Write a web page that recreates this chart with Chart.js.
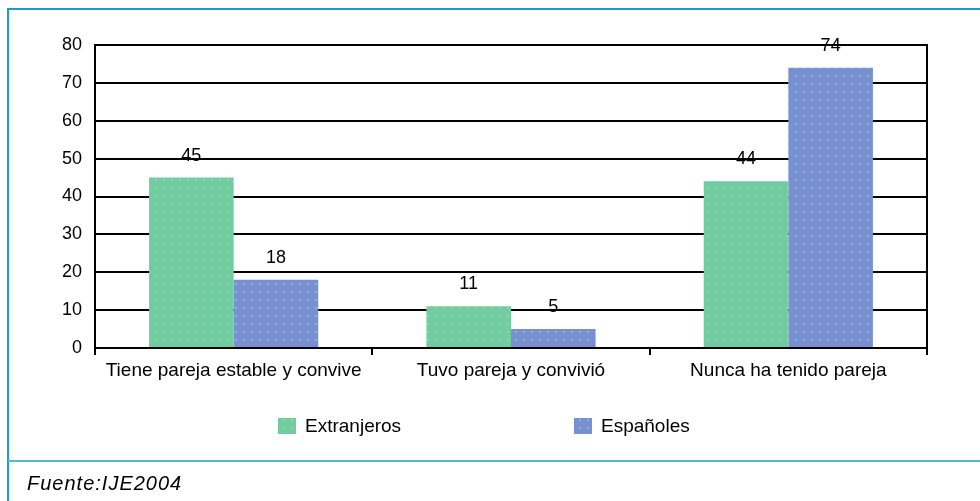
<!DOCTYPE html>
<html>
<head>
<meta charset="utf-8">
<script src="https://cdn.jsdelivr.net/npm/chart.js@4.4.1/dist/chart.umd.min.js"></script>
<style>
  html, body { margin: 0; padding: 0; background: #ffffff; }
  #wrap { position: relative; width: 980px; height: 501px; }
  canvas { display: block; }
</style>
</head>
<body>
<div id="wrap"><canvas id="c" width="980" height="501"></canvas></div>
<script>
// Situación de pareja: extranjeros frente a españoles (%)
const categories = ['Tiene pareja estable y convive', 'Tuvo pareja y convivió', 'Nunca ha tenido pareja'];
const extranjeros = [45, 11, 44];
const espanoles = [18, 5, 74];
const seriesNames = ['Extranjeros', 'Españoles'];
const yTicks = [0, 10, 20, 30, 40, 50, 60, 70, 80];
const sourceNote = 'Fuente:IJE2004';

const FONT = '"Liberation Sans", Arial, sans-serif';

// Dotted fills for the bars
function makePattern(base, dot, step) {
  const p = document.createElement('canvas');
  p.width = step; p.height = step;
  const g = p.getContext('2d');
  g.fillStyle = base;
  g.fillRect(0, 0, step, step);
  g.fillStyle = dot;
  g.fillRect(Math.floor(step / 2) - 1, Math.floor(step / 2) - 1, 2, 2);
  return g.createPattern(p, 'repeat');
}
const ctx0 = document.getElementById('c').getContext('2d');
const greenFill = makePattern('#72cca2', '#8fd89a', 8);
const blueFill = makePattern('#7a8fd2', '#74c2c8', 8);

// Frame, value labels, legend and source line
const decor = {
  id: 'decor',
  beforeDraw(chart) {
    const c = chart.ctx;
    c.save();
    c.fillStyle = '#ffffff';
    c.fillRect(0, 0, chart.width, chart.height);
    c.restore();
  },
  afterDraw(chart) {
    const c = chart.ctx;
    const a = chart.chartArea;
    c.save();
    // right edge of the plot
    c.strokeStyle = '#000000';
    c.lineWidth = 2;
    c.beginPath();
    c.moveTo(a.right, a.top - 1);
    c.lineTo(a.right, a.bottom + 1);
    c.stroke();

    // values above bars
    c.fillStyle = '#000000';
    c.font = '18px ' + FONT;
    c.textAlign = 'center';
    c.textBaseline = 'middle';
    chart.data.datasets.forEach((ds, di) => {
      chart.getDatasetMeta(di).data.forEach((bar, i) => {
        c.fillText(String(ds.data[i]), bar.x, bar.y - 22);
      });
    });

    // legend
    const legendX = [278, 574];
    c.font = '19px ' + FONT;
    c.textAlign = 'left';
    chart.data.datasets.forEach((ds, di) => {
      const x = legendX[di];
      c.fillStyle = ds.backgroundColor;
      c.fillRect(x, 418, 18, 16);
      c.fillStyle = '#000000';
      c.fillText(ds.label, x + 27, 427);
    });

    // outer frame
    c.strokeStyle = '#169fc6';
    c.lineWidth = 2;
    c.beginPath();
    c.moveTo(8, chart.height);
    c.lineTo(8, 9);
    c.lineTo(chart.width, 9);
    c.stroke();
    c.strokeStyle = '#55b9d5';
    c.lineWidth = 2;
    c.beginPath();
    c.moveTo(8, 461);
    c.lineTo(chart.width, 461);
    c.stroke();

    // source
    c.fillStyle = '#000000';
    c.font = 'italic 20px ' + FONT;
    c.textAlign = 'left';
    if ('letterSpacing' in c) c.letterSpacing = '1px';
    c.fillText(sourceNote, 27, 484);
    c.restore();
  }
};

new Chart(ctx0, {
  type: 'bar',
  data: {
    labels: categories,
    datasets: [
      { label: seriesNames[0], data: extranjeros, backgroundColor: greenFill, borderWidth: 0 },
      { label: seriesNames[1], data: espanoles, backgroundColor: blueFill, borderWidth: 0 }
    ]
  },
  options: {
    responsive: false,
    animation: false,
    layout: { padding: { top: 45, right: 53, bottom: 0, left: 0 } },
    plugins: { legend: { display: false }, tooltip: { enabled: false } },
    datasets: { bar: { categoryPercentage: 0.61, barPercentage: 1.0 } },
    scales: {
      x: {
        offset: true,
        grid: { offset: true, drawOnChartArea: false, drawTicks: true, tickLength: 7, color: '#000000', lineWidth: 2 },
        border: { display: true, color: '#000000', width: 2 },
        ticks: { color: '#000000', font: { family: FONT, size: 19 }, padding: 4, maxRotation: 0, autoSkip: false },
        afterFit(s) { s.height = 153; }
      },
      y: {
        min: 0,
        max: 80,
        afterBuildTicks(s) { s.ticks = yTicks.map(v => ({ value: v })); },
        grid: { color: '#000000', lineWidth: 2, drawTicks: false },
        border: { display: true, color: '#000000', width: 2 },
        ticks: { color: '#000000', font: { family: FONT, size: 18 }, padding: 13 },
        afterFit(s) { s.width = 95; }
      }
    }
  },
  plugins: [decor]
});
</script>
</body>
</html>
